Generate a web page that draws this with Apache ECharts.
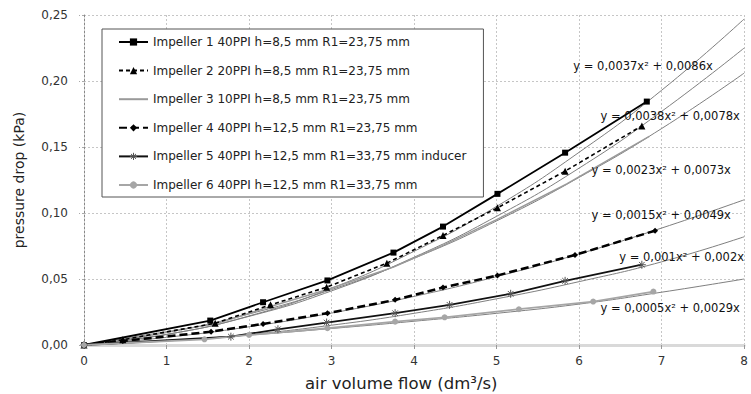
<!DOCTYPE html>
<html>
<head>
<meta charset="utf-8">
<script src="https://cdn.jsdelivr.net/npm/echarts@6/dist/echarts.min.js"></script>
<style>
  html, body { margin: 0; padding: 0; background: #fff; }
  #chart { width: 751px; height: 394px; }
</style>
</head>
<body>
<div id="chart"></div>
<script>
// measured series (air volume flow dm3/s, pressure drop kPa)
const imp1X = [0, 1.53, 2.17, 2.95, 3.75, 4.35, 5.01, 5.83, 6.82]
const imp1Y = [0, 0.0185, 0.0324, 0.0489, 0.070, 0.0897, 0.1145, 0.1457, 0.1844]
const imp2X = [0, 0.47, 1.59, 2.26, 2.94, 3.67, 4.35, 5.01, 5.83, 6.76]
const imp2Y = [0, 0.004, 0.0165, 0.0304, 0.0438, 0.062, 0.083, 0.1039, 0.1317, 0.166]
const imp3X = [0, 1.6, 2.25, 2.95, 3.75, 4.35, 5.0, 5.85, 6.85]
const imp3Y = [0, 0.016, 0.029, 0.042, 0.059, 0.0755, 0.095, 0.122, 0.158]
const imp4X = [0, 0.47, 1.54, 2.17, 2.95, 3.77, 4.35, 5.01, 5.95, 6.92]
const imp4Y = [0, 0.003, 0.0101, 0.016, 0.0241, 0.0342, 0.0435, 0.0527, 0.0682, 0.0866]
const imp5X = [0, 1.78, 2.35, 2.94, 3.77, 4.43, 5.17, 5.83, 6.76]
const imp5Y = [0, 0.0063, 0.0119, 0.017, 0.0241, 0.0304, 0.0388, 0.0486, 0.0608]
const imp6X = [0, 1.46, 2.0, 2.95, 3.77, 4.37, 5.27, 6.17, 6.9]
const imp6Y = [0, 0.0043, 0.0076, 0.0127, 0.0177, 0.021, 0.0271, 0.0329, 0.0405]

// trend lines at x = 0..8
const trendX = [0, 1, 2, 3, 4, 5, 6, 7, 8]
const trend1 = [0, 0.008, 0.022, 0.043, 0.071, 0.105, 0.146, 0.193, 0.247]
const trend2 = [0, 0.008, 0.0217, 0.041, 0.0665, 0.0975, 0.134, 0.177, 0.225]
const trend3 = [0, 0.0094, 0.0235, 0.042, 0.0657, 0.094, 0.127, 0.164, 0.206]
const trend4 = [0, 0.0058, 0.0138, 0.0242, 0.0368, 0.0518, 0.069, 0.0886, 0.110]
const trend5 = [0, 0.003, 0.008, 0.015, 0.024, 0.035, 0.048, 0.063, 0.082]
const trend6 = [0, 0.0033, 0.0075, 0.0125, 0.018, 0.024, 0.031, 0.040, 0.050]

const seriesNames = [
  'Impeller 1 40PPI h=8,5 mm R1=23,75 mm',
  'Impeller 2 20PPI h=8,5 mm R1=23,75 mm',
  'Impeller 3 10PPI h=8,5 mm R1=23,75 mm',
  'Impeller 4 40PPI h=12,5 mm R1=23,75 mm',
  'Impeller 5 40PPI h=12,5 mm R1=33,75 mm inducer',
  'Impeller 6 40PPI h=12,5 mm R1=33,75 mm',
]

// equation labels and their anchor (x, y) in data units
const eqTexts = [
  'y = 0,0037x² + 0,0086x',
  'y = 0,0038x² + 0,0078x',
  'y = 0,0023x² + 0,0073x',
  'y = 0,0015x² + 0,0049x',
  'y = 0,001x² + 0,002x',
  'y = 0,0005x² + 0,0029x',
]
const eqAnchors = [[5.93, 0.2114], [6.258, 0.1735], [6.15, 0.1326], [6.15, 0.0985], [6.486, 0.0667], [6.258, 0.028]]

const FONT = 'DejaVu Sans'
const zip = (xs, ys) => xs.map((x, i) => [x, ys[i]])
const fmt = (v) => v.toFixed(2).replace('.', ',')
const ASTERISK = 'path://M0,5L10,5M5,0L5,10M1.5,1.5L8.5,8.5M8.5,1.5L1.5,8.5'
const NO_MARK = { color: 'rgba(0,0,0,0)', borderColor: 'rgba(0,0,0,0)', borderWidth: 0 }

const mkTrend = (ys) => ({
  type: 'line',
  data: zip(trendX, ys),
  smooth: true,
  symbol: 'none',
  silent: true,
  lineStyle: { color: '#7f7f7f', width: 1 },
  z: 1,
})

const chart = echarts.init(document.getElementById('chart'), null, { renderer: 'svg' })
chart.setOption({
  animation: false,
  backgroundColor: '#fff',
  textStyle: { fontFamily: FONT },
  grid: { left: 84, right: 1, top: 15, bottom: 49 },
  legend: {
    data: [
      { name: seriesNames[0] },
      { name: seriesNames[1] },
      { name: seriesNames[2], itemStyle: NO_MARK },
      { name: seriesNames[3] },
      { name: seriesNames[4], itemStyle: { color: 'rgba(0,0,0,0)', borderColor: '#555', borderWidth: 1 } },
      { name: seriesNames[5] },
    ],
    orient: 'vertical',
    left: 102,
    top: 29,
    padding: [7, 17, 6, 16],
    itemGap: 16.6,
    itemWidth: 29,
    itemHeight: 9,
    backgroundColor: '#fff',
    borderColor: '#555',
    borderWidth: 1,
    borderRadius: 0,
    textStyle: { fontFamily: FONT, fontSize: 12, color: '#222' },
  },
  xAxis: {
    type: 'value',
    min: 0,
    max: 8,
    interval: 1,
    axisLine: { show: true, lineStyle: { color: '#d9d9d9', width: 3 } },
    axisTick: { show: true, length: 4, lineStyle: { color: '#999' } },
    axisLabel: { fontFamily: FONT, fontSize: 12, color: '#333', margin: 10 },
    splitLine: { show: true, lineStyle: { color: '#c6c6c6', type: [2, 2], width: 1 } },
  },
  yAxis: {
    type: 'value',
    min: 0,
    max: 0.25,
    interval: 0.05,
    name: 'pressure drop (kPa)',
    nameLocation: 'middle',
    nameGap: 58,
    nameTextStyle: { fontFamily: FONT, fontSize: 14, color: '#222' },
    axisLine: { show: true, lineStyle: { color: '#888', type: [2, 2], width: 1 } },
    axisTick: { show: true, length: 5, lineStyle: { color: '#aaa', type: [2, 2] } },
    axisLabel: { fontFamily: FONT, fontSize: 12, color: '#333', margin: 16, formatter: fmt },
    splitLine: { show: true, lineStyle: { color: '#c6c6c6', type: [2, 2], width: 1 } },
  },
  series: [
    mkTrend(trend1), mkTrend(trend2), mkTrend(trend3),
    mkTrend(trend4), mkTrend(trend5), mkTrend(trend6),
    {
      name: seriesNames[0], type: 'line', data: zip(imp1X, imp1Y),
      symbol: 'rect', symbolSize: 6,
      lineStyle: { color: '#000', width: 1.8 }, itemStyle: { color: '#000' }, z: 5,
    },
    {
      name: seriesNames[1], type: 'line', data: zip(imp2X, imp2Y),
      symbol: 'triangle', symbolSize: 7,
      lineStyle: { color: '#000', width: 1.6, type: [4, 3] }, itemStyle: { color: '#000' }, z: 5,
    },
    {
      name: seriesNames[2], type: 'line', data: zip(imp3X, imp3Y),
      symbol: 'circle', symbolSize: 0, showSymbol: false,
      lineStyle: { color: '#9a9a9a', width: 1.5 }, itemStyle: { color: '#9a9a9a' }, z: 4,
    },
    {
      name: seriesNames[3], type: 'line', data: zip(imp4X, imp4Y),
      symbol: 'diamond', symbolSize: 6,
      lineStyle: { color: '#000', width: 2.5, type: [8, 4] }, itemStyle: { color: '#000' }, z: 5,
    },
    {
      name: seriesNames[4], type: 'line', data: zip(imp5X, imp5Y),
      symbol: ASTERISK, symbolSize: 8,
      lineStyle: { color: '#111', width: 1.8 },
      itemStyle: { color: 'rgba(0,0,0,0)', borderColor: '#555', borderWidth: 1 }, z: 5,
    },
    {
      name: seriesNames[5], type: 'line', data: zip(imp6X, imp6Y),
      symbol: 'circle', symbolSize: 6,
      lineStyle: { color: '#a6a6a6', width: 1.8 }, itemStyle: { color: '#a6a6a6' }, z: 5,
    },
  ],
})

// x axis title plus equation labels placed at data coordinates
const xTitle = {
  type: 'text',
  left: 305,
  top: 375,
  style: { text: 'air volume flow (dm³/s)', fontFamily: FONT, fontSize: 16.5, fill: '#222' },
}
const eqLabels = eqTexts.map((t, i) => {
  const p = chart.convertToPixel({ gridIndex: 0 }, eqAnchors[i])
  return {
    type: 'text',
    x: p[0],
    y: p[1],
    z: 10,
    style: { text: t, fontFamily: FONT, fontSize: 11.5, fill: '#111', verticalAlign: 'middle', align: 'left' },
  }
})
chart.setOption({ graphic: [xTitle, ...eqLabels] })
</script>
</body>
</html>
